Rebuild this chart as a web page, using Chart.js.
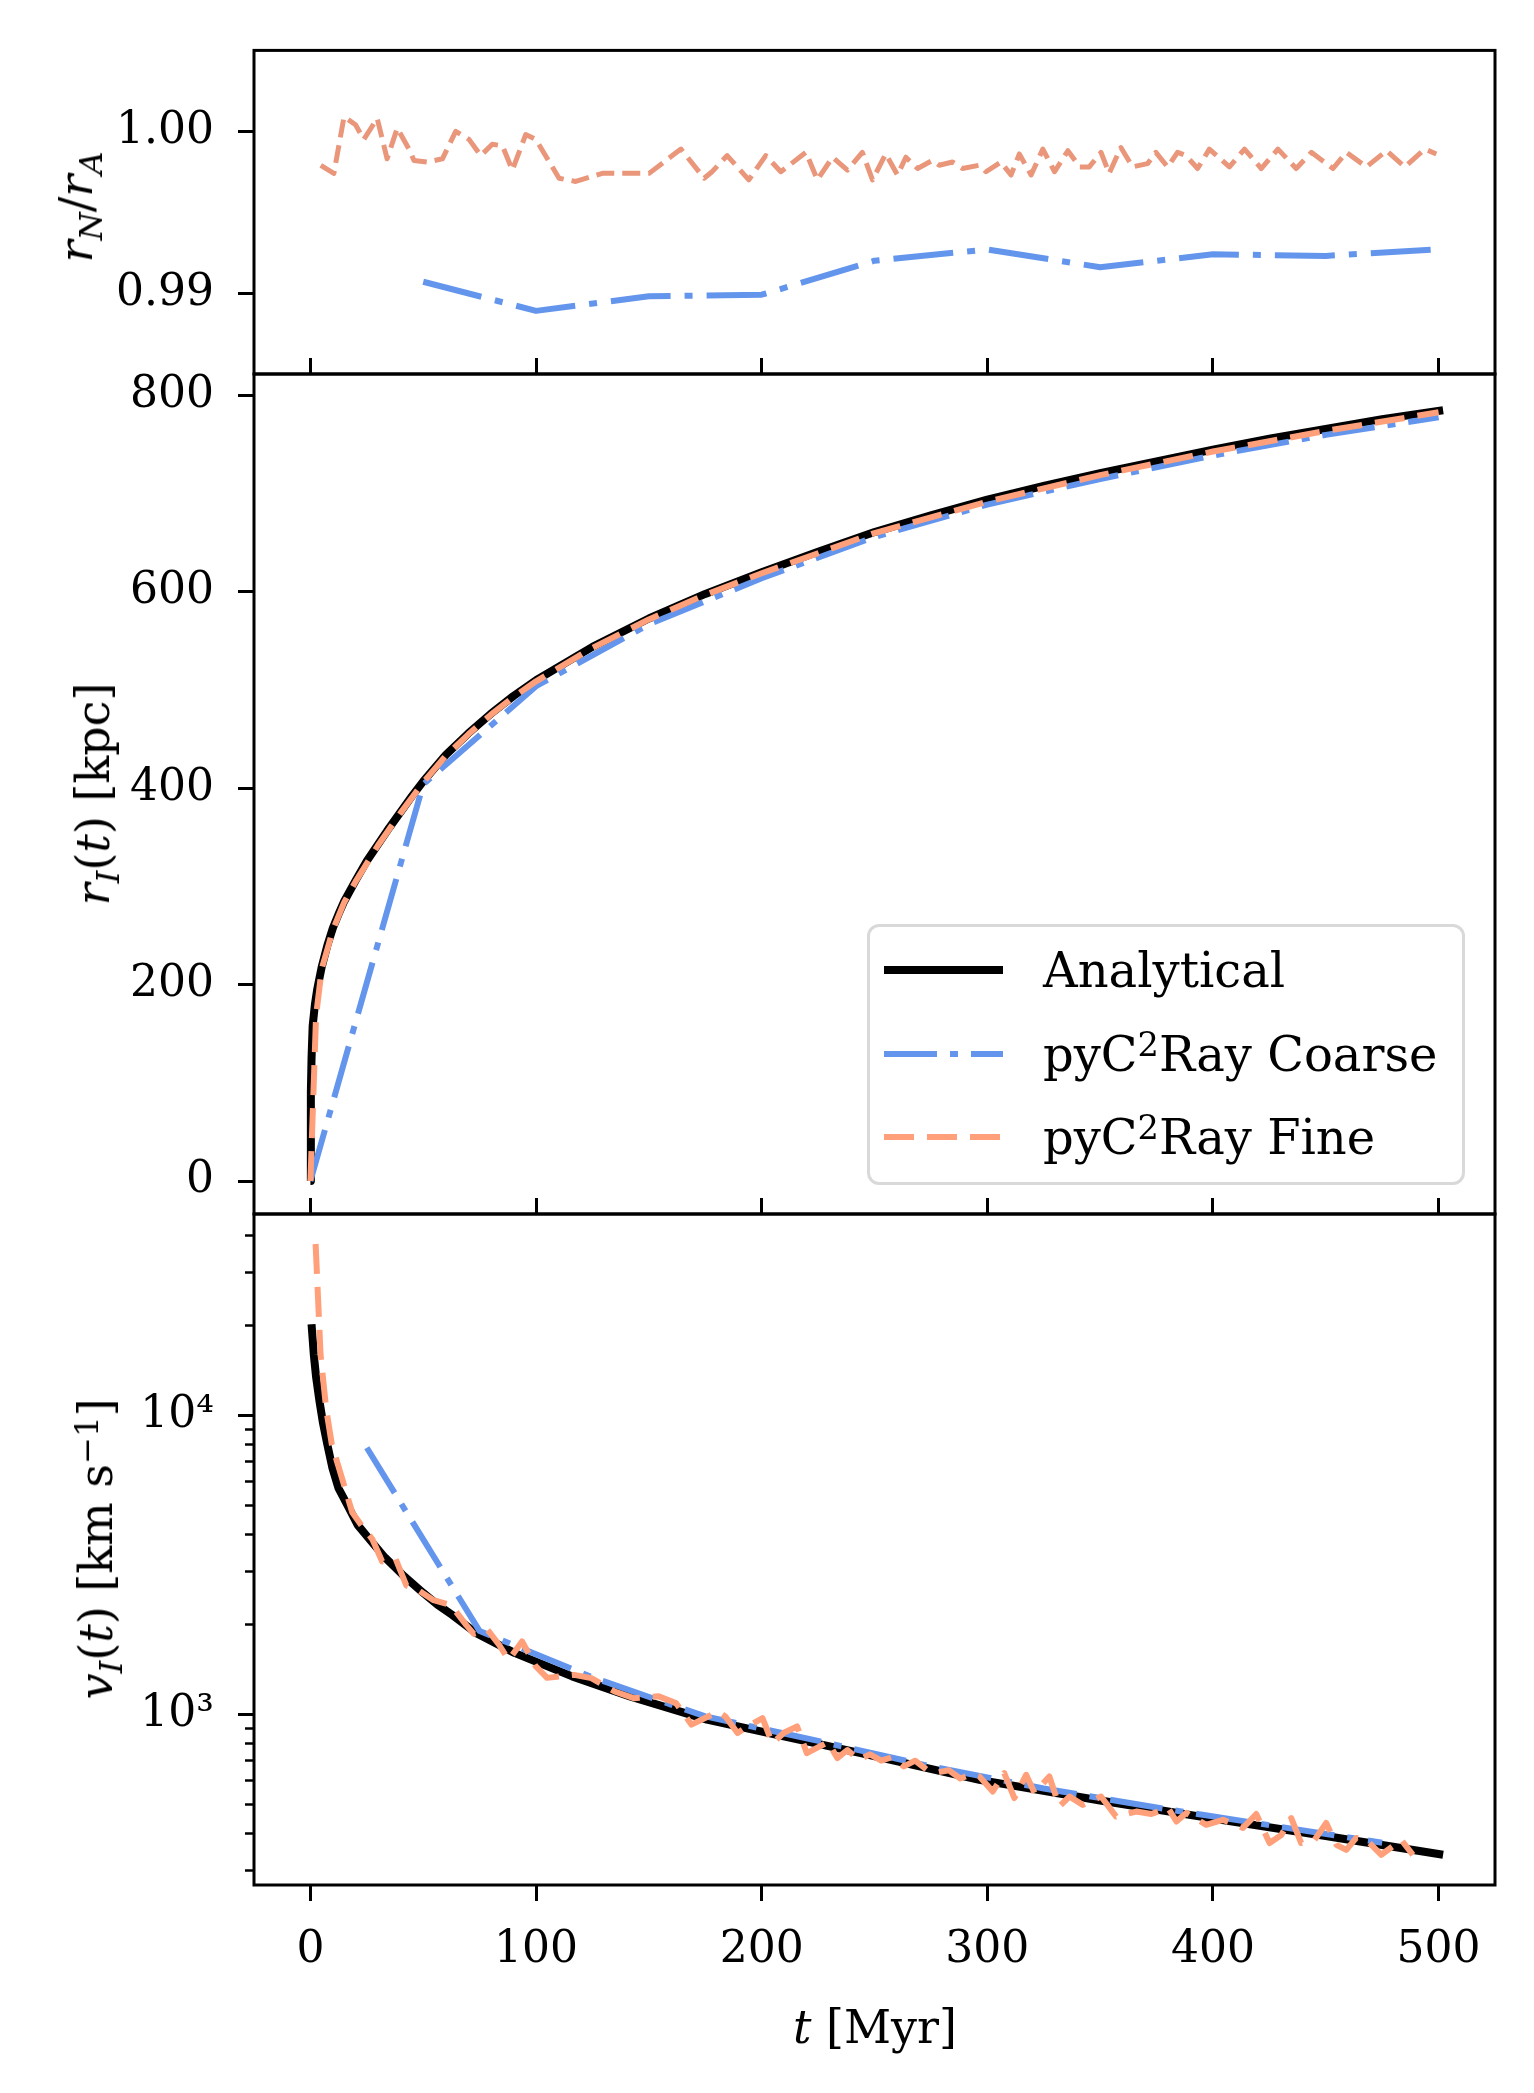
<!DOCTYPE html>
<html>
<head>
<meta charset="utf-8">
<script src="https://cdn.jsdelivr.net/npm/chart.js@4.4.1/dist/chart.umd.min.js"></script>
<style>
  html, body { margin: 0; padding: 0; background: #fff; }
  #wrap { position: relative; width: 1534px; height: 2093px; overflow: hidden; font-family: 'DejaVu Serif', serif; color: #000; }
  #wrap canvas { position: absolute; left: 0; top: 0; }
  .lab { position: absolute; white-space: nowrap; font-size: 46px; line-height: 1; }
  .ylab { transform: translate(-50%, -50%) rotate(-90deg); }
  .xlab { transform: translate(-50%, -50%); }
  .sub { font-size: 0.7em; position: relative; top: 0.3em; }
  .sup { font-size: 0.7em; position: relative; top: -0.45em; }
  #legend { position: absolute; left: 867px; top: 924px; width: 598px; height: 261px; box-sizing: border-box;
            border: 3px solid #d9d9d9; border-radius: 12px; background: rgba(255,255,255,0.85); }
  #legend svg { position: absolute; left: -3px; top: -3px; }
  #legend .txt { position: absolute; left: 173px; font-size: 48px; line-height: 1; transform: translateY(-50%); white-space: nowrap; }
</style>
</head>
<body>
<div id="wrap">
  <canvas id="top" width="1534" height="2093"></canvas>
  <canvas id="mid" width="1534" height="2093"></canvas>
  <canvas id="bot" width="1534" height="2093"></canvas>

  <div class="lab ylab" style="left:76px; top:207px;"><i>r</i><span class="sub"><i>N</i></span>/<i>r</i><span class="sub"><i>A</i></span></div>
  <div class="lab ylab" style="left:93px; top:794px;"><i>r</i><span class="sub"><i>I</i></span>(<i>t</i>) [kpc]</div>
  <div class="lab ylab" style="left:96px; top:1549px;"><i>v</i><span class="sub"><i>I</i></span>(<i>t</i>) [km s<span class="sup">−1</span>]</div>
  <div class="lab xlab" style="left:875px; top:2027px;"><i>t</i> [Myr]</div>

  <div id="legend">
    <svg width="598" height="261">
      <line x1="17" y1="46" x2="136" y2="46" stroke="#000" stroke-width="8"/>
      <line x1="17" y1="130" x2="136" y2="130" stroke="#6495ED" stroke-width="6" stroke-dasharray="53 13 8 13"/>
      <line x1="17" y1="213" x2="136" y2="213" stroke="#FFA07A" stroke-width="6" stroke-dasharray="30 13"/>
    </svg>
    <div class="txt" style="top:43px;">Analytical</div>
    <div class="txt" style="top:127px;">pyC<span class="sup">2</span>Ray Coarse</div>
    <div class="txt" style="top:210px;">pyC<span class="sup">2</span>Ray Fine</div>
  </div>
</div>

<script>
// shared time axis
const xTicks = [0, 100, 200, 300, 400, 500];

// top panel: r_N / r_A
const ratioTicks = [0.99, 1.00];
const coarseRatioT = [50, 100, 150, 200, 250, 300, 350, 400, 450, 500];
const coarseRatio = [0.9907, 0.9889, 0.9898, 0.9899, 0.9920, 0.9927, 0.9916, 0.9924, 0.9923, 0.9927];
const fineRatioT = [4.6, 10.4, 14.9, 20, 23.7, 29.6, 34, 38.5, 43.7, 45.9,
  51.8, 58.5, 64.4, 70.3, 75.5, 80.6, 85.1, 89.5, 95.4, 99.9,
  110.2, 117.6, 129.4, 150.1, 164.2, 174.5, 178, 184.7, 194.3, 201.8,
  208.5, 219.6, 224.7, 231.4, 238, 244.6, 249.1, 255, 260.2, 263.9,
  269.1, 275.7, 278.7, 284.6, 289, 296.4, 299.4, 306, 310.5, 314.2,
  319.4, 324.6, 329.8, 335.7, 341, 345.2, 350.4, 354, 359.2, 364.4,
  371, 374.7, 379.9, 384.3, 388, 393.2, 398.4, 407.3, 414, 421.4,
  428.8, 436.9, 443.6, 453.2, 459.1, 468, 476.9, 485, 493.9, 499];
const fineRatio = [0.9979, 0.9974, 1.0009, 1.0004, 0.9995, 1.0008, 0.9983, 1.0002, 0.9989, 0.9982,
  0.9981, 0.9983, 1.0000, 0.9995, 0.9985, 0.9992, 0.9991, 0.9976, 0.9998, 0.9995,
  0.9971, 0.9969, 0.9974, 0.9974, 0.9989, 0.9971, 0.9975, 0.9985, 0.9970, 0.9985,
  0.9975, 0.9987, 0.9970, 0.9984, 0.9976, 0.9987, 0.9970, 0.9986, 0.9973, 0.9984,
  0.9977, 0.9982, 0.9979, 0.9981, 0.9977, 0.9979, 0.9975, 0.9981, 0.9973, 0.9986,
  0.9973, 0.9989, 0.9975, 0.9988, 0.9978, 0.9978, 0.9987, 0.9974, 0.9990, 0.9978,
  0.9980, 0.9987, 0.9978, 0.9987, 0.9985, 0.9977, 0.9989, 0.9978, 0.9989, 0.9977,
  0.9989, 0.9977, 0.9987, 0.9977, 0.9987, 0.9978, 0.9988, 0.9978, 0.9989, 0.9986];

// middle panel: r_I(t) [kpc]
const radiusTicks = [0, 200, 400, 600, 800];
const anaRT = [0, 0.2, 0.5, 1, 2, 3, 5, 7.5, 10, 12.5, 15, 20, 25, 30, 35, 40, 45, 50, 60, 70, 80, 90, 100,
  125, 150, 175, 200, 225, 250, 275, 300, 325, 350, 375, 400, 425, 450, 475, 502];
const anaR = [0, 90, 125, 158, 180, 195, 218, 240, 258, 272, 285, 306, 326, 343, 360, 376, 392, 407, 434, 456, 476, 494, 510,
  544, 573, 598, 620, 641, 661, 678, 694, 708, 721, 733, 745, 756, 766, 776, 785];
const coarseRT = [0, 50, 100, 150, 200, 250, 300, 350, 400, 450, 500];
const coarseR = [0, 404, 504, 567, 614, 656, 689, 715, 739, 760, 778];
const fineRT = [0, 2.5, 5, 10, 15, 20, 30, 40, 50, 60, 70, 80, 90, 100, 125, 150, 175, 200, 250, 300, 350, 400, 450, 500];
const fineR = [0, 168, 216, 256, 284, 305, 342, 375, 406, 433, 455, 475, 493, 509, 543, 572, 597, 619, 660, 692, 719, 743, 764, 783];

// bottom panel: v_I(t) [km/s]
const velMajor = [1000, 10000];
const velMinor = [300, 400, 500, 600, 700, 800, 900, 2000, 3000, 4000, 5000, 6000, 7000, 8000, 9000, 20000, 30000, 40000];
const anaVT = [0.5, 1, 1.5, 2.5, 4, 5.5, 7.5, 9.7, 12.5, 17.1, 21, 26, 33, 40.7, 50, 56.3, 62.9, 73.3, 90.4, 116,
  141.6, 175.7, 209.8, 243.9, 296.5, 350, 400, 450, 502];
const anaV = [20200, 18000, 16000, 13500, 11200, 9500, 8000, 6700, 5700, 4900, 4300, 3870, 3350, 2940, 2550, 2330, 2150, 1873, 1606, 1340,
  1149, 960, 844, 742, 604, 515, 448, 392, 339];
const coarseVT = [25, 75, 125, 175, 225, 275, 325, 375, 425, 475];
const coarseV = [7800, 1900, 1330, 985, 815, 670, 565, 488, 426, 372];
const fineVT = [2.3, 4.5, 7, 9.5, 12.6, 18.5, 23, 27.4, 31.8, 37.8,
  42.5, 48, 54.6, 62.3, 69.1, 72.4, 78.5, 83.6, 87.9, 93.8,
  99.8, 104.9, 116.9, 124.5, 134.8, 143.3, 154.4, 162, 168.9, 180.8,
  184, 189.3, 193.6, 200.4, 204.7, 210, 215.7, 220, 229.4, 233.5,
  238, 243, 248, 253, 258, 263, 268, 273, 278, 283,
  288, 293, 296.5, 302.4, 307.5, 312, 317.2, 320.9, 327.5, 331.9,
  336.4, 342.3, 350.4, 357.1, 366, 372.7, 380.1, 383.8, 388.2, 397,
  404.4, 413.3, 419.2, 425.1, 430.3, 434.7, 439.1, 445, 450.2, 454.7,
  459.1, 463.5, 468, 474.6, 483.5, 488.6];
const fineV = [37500, 16000, 10500, 8000, 6700, 4750, 4250, 3860, 3250, 3310,
  2700, 2600, 2410, 2320, 1990, 1860, 1920, 1710, 1520, 1755,
  1450, 1325, 1356, 1322, 1193, 1133, 1149, 1092, 924, 1022,
  982, 866, 911, 971, 800, 870, 911, 742, 808, 714,
  760, 705, 735, 700, 720, 670, 700, 655, 640, 650,
  610, 630, 620, 552, 636, 525, 628, 546, 620, 492,
  531, 498, 531, 455, 473, 464, 486, 438, 468, 427,
  444, 417, 464, 371, 395, 450, 371, 380, 433, 366,
  352, 386, 380, 339, 380, 339];

const BLACK = '#000000';
const BLUE = '#6495ED';
const SALMON = '#FFA07A';
const DARK_SALMON = '#E9967A';
const TICK_FONT = { family: 'DejaVu Serif', size: 44 };

Chart.defaults.font.family = 'DejaVu Serif';
Chart.defaults.color = '#000';

const pts = (xs, ys) => xs.map((x, i) => ({ x: x, y: ys[i] }));
const setTicks = vals => scale => { scale.ticks = vals.map(v => ({ value: v })); };
const fixWidth = w => scale => { scale.width = w; };
const fixHeight = h => scale => { scale.height = h; };
const tickGrid = (len, w) => ({ drawOnChartArea: false, drawTicks: true, tickLength: len, tickWidth: w, tickColor: BLACK, color: BLACK });

const framePlugin = {
  id: 'frame',
  afterDraw(chart) {
    const { ctx, chartArea: a } = chart;
    ctx.save();
    ctx.strokeStyle = BLACK;
    ctx.lineWidth = 3;
    ctx.strokeRect(a.left, a.top, a.right - a.left, a.bottom - a.top);
    ctx.restore();
  }
};

function line(data, color, width, dash, order) {
  return {
    data: data, borderColor: color, borderWidth: width, borderDash: dash || [],
    borderJoinStyle: 'round', pointRadius: 0, tension: 0, fill: false, clip: 0, order: order
  };
}

const xHidden = { type: 'linear', min: -25, max: 525, display: false };
const xTop = {
  type: 'linear', position: 'top', min: -25, max: 525,
  grid: tickGrid(16, 3), border: { display: false }, ticks: { display: false },
  afterBuildTicks: setTicks(xTicks), afterFit: fixHeight(0)
};

function baseOptions(padding, scales) {
  return {
    responsive: false, animation: false, events: [],
    layout: { padding: padding },
    plugins: { legend: { display: false }, tooltip: { enabled: false } },
    scales: scales
  };
}

// top panel
new Chart(document.getElementById('top'), {
  type: 'line',
  data: { datasets: [
    line(pts(fineRatioT, fineRatio), DARK_SALMON, 5, [18, 8], 1),
    line(pts(coarseRatioT, coarseRatio), BLUE, 6, [60, 14, 8, 14], 2)
  ] },
  options: baseOptions({ left: 0, right: 39, top: 39, bottom: 1719 }, {
    x: xHidden,
    y: {
      type: 'linear', position: 'left', min: 0.985, max: 1.005,
      grid: tickGrid(16, 3), border: { display: false },
      ticks: { font: TICK_FONT, color: BLACK, padding: 24, callback: v => v.toFixed(2) },
      afterBuildTicks: setTicks(ratioTicks), afterFit: fixWidth(254)
    }
  }),
  plugins: [framePlugin]
});

// middle panel
new Chart(document.getElementById('mid'), {
  type: 'line',
  data: { datasets: [
    line(pts(fineRT, fineR), SALMON, 6, [30, 13], 1),
    line(pts(coarseRT, coarseR), BLUE, 6, [53, 13, 8, 13], 2),
    line(pts(anaRT, anaR), BLACK, 8, [], 3)
  ] },
  options: baseOptions({ left: 0, right: 39, top: 374, bottom: 879 }, {
    x: xHidden,
    x2: xTop,
    y: {
      type: 'linear', position: 'left', min: -33.6, max: 822,
      grid: tickGrid(16, 3), border: { display: false },
      ticks: { font: TICK_FONT, color: BLACK, padding: 24, callback: v => String(v) },
      afterBuildTicks: setTicks(radiusTicks), afterFit: fixWidth(254)
    }
  }),
  plugins: [framePlugin]
});

// bottom panel
new Chart(document.getElementById('bot'), {
  type: 'line',
  data: { datasets: [
    line(pts(fineVT, fineV), SALMON, 6, [30, 13], 1),
    line(pts(coarseVT, coarseV), BLUE, 6, [53, 13, 8, 13], 2),
    line(pts(anaVT, anaV), BLACK, 8, [], 3)
  ] },
  options: baseOptions({ left: 0, right: 39, top: 1214, bottom: 88 }, {
    x: {
      type: 'linear', position: 'bottom', min: -25, max: 525,
      grid: tickGrid(16, 3), border: { display: false },
      ticks: { font: TICK_FONT, color: BLACK, padding: 23, maxRotation: 0, callback: v => String(v) },
      afterBuildTicks: setTicks(xTicks), afterFit: fixHeight(120)
    },
    x2: xTop,
    yMinor: {
      type: 'logarithmic', position: 'left', min: 268.6, max: 47250, weight: 0,
      grid: tickGrid(9, 2.5), border: { display: false }, ticks: { display: false },
      afterBuildTicks: setTicks(velMinor), afterFit: fixWidth(0)
    },
    y: {
      type: 'logarithmic', position: 'left', min: 268.6, max: 47250, weight: 1,
      grid: tickGrid(16, 3), border: { display: false },
      ticks: { font: TICK_FONT, color: BLACK, padding: 24, callback: v => (v === 1000 ? '10³' : '10⁴') },
      afterBuildTicks: setTicks(velMajor), afterFit: fixWidth(254)
    }
  }),
  plugins: [framePlugin]
});
</script>
</body>
</html>
